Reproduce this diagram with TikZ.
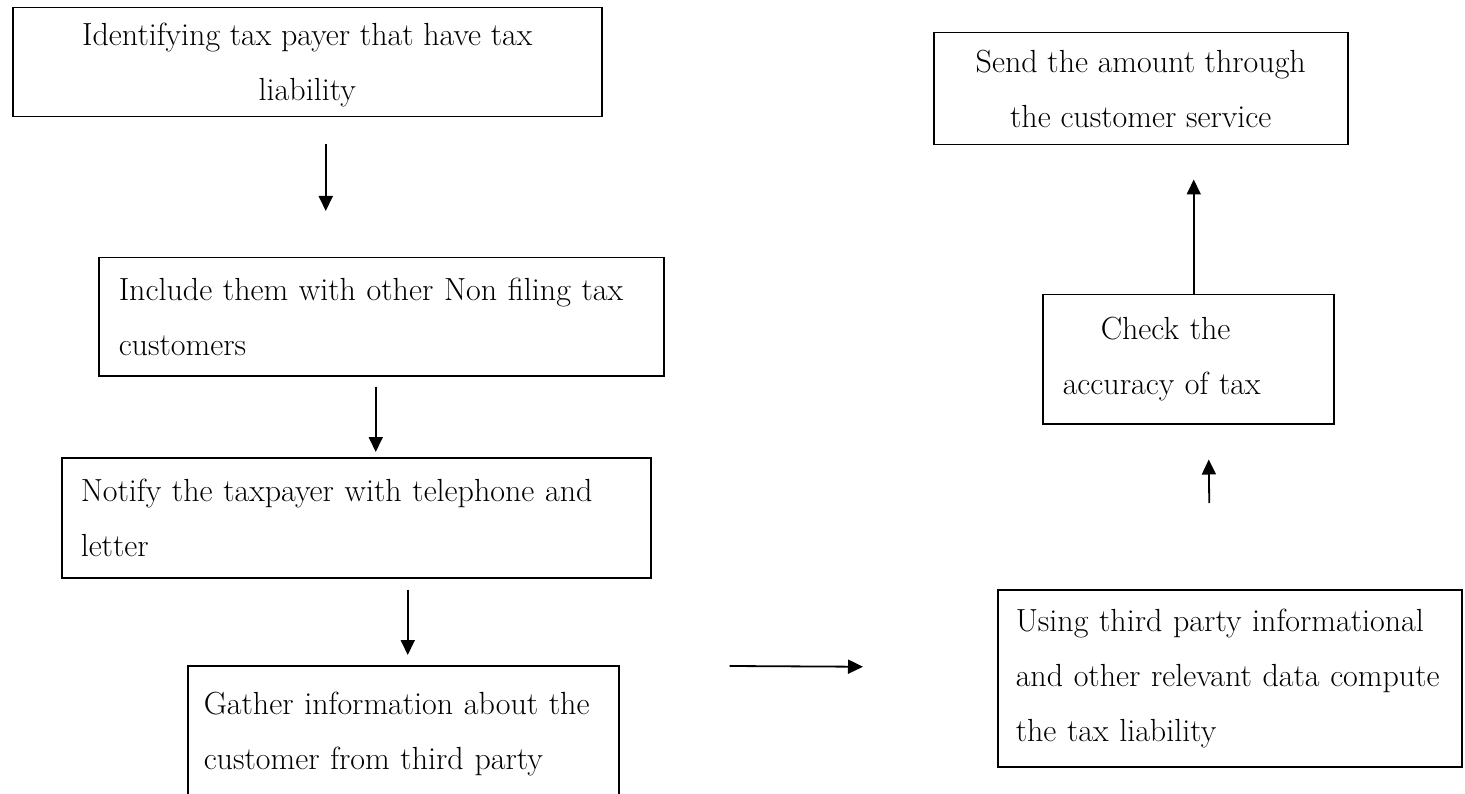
\documentclass[tikz,border=0pt]{standalone}
\usepackage{tikz}
\usetikzlibrary{arrows.meta}

\tikzset{
  box/.style={draw, rectangle, line width=1.5pt, anchor=north west, inner ysep=0pt, font=\fontsize{32}{55}\selectfont},
  arr/.style={line width=1.8pt, -{Triangle[length=15pt,width=14pt]}}
}

\begin{document}
\begin{tikzpicture}[x=1pt, y=-1pt]
        \useasboundingbox (0,0) rectangle (1465,794);
        \clip (0,0) rectangle (1465,794);
        \node (ident) [box, align=center, minimum width=589pt, minimum height=109pt, text depth=0pt] at (12,7) {Identifying tax payer that have tax\\liability};
        \node (incl) [box, align=left, inner xsep=20pt, text width=525pt, minimum height=118pt] at (98,257) {Include them with other Non filing tax\\customers};
        \node (notify) [box, align=left, inner xsep=19pt, text width=551pt, minimum height=120pt] at (61,457) {Notify the taxpayer with telephone and\\letter};
        \node (gather) [box, align=left, inner xsep=16pt, text width=399pt, minimum height=136pt] at (187,665) {Gather information about the\\customer from third party};
        \node (using) [box, align=left, inner xsep=18pt, text width=428pt, minimum height=177pt] at (997,589) {Using third party informational\\and other relevant data compute\\the tax liability};
        \node (check) [box, align=left, inner xsep=20pt, text width=251pt, minimum height=129pt] at (1042,294) {\hspace*{38pt}Check the\\accuracy of tax};
        \node (send) [box, align=center, minimum width=414pt, minimum height=112pt] at (933,32) {Send the amount through\\the customer service};

        \draw[arr] ([xshift=18.5pt,yshift=-27pt]ident.south) -- ([xshift=-55.5pt,yshift=46pt]incl.north);
        \draw[arr] ([xshift=-5.5pt,yshift=-10pt]incl.south) -- ([xshift=19.5pt,yshift=5pt]notify.north);
        \draw[arr] ([xshift=51.5pt,yshift=-11pt]notify.south) -- ([xshift=4.5pt,yshift=10pt]gather.north);
        \draw[arr] ([xshift=110pt,yshift=-1pt]gather.north east) -- ([xshift=-134pt,yshift=11.5pt]using.west);
        \draw[arr] ([xshift=-20.5pt,yshift=86pt]using.north) -- ([xshift=20.5pt,yshift=-35pt]check.south);
        \draw[arr] ([xshift=5.5pt]check.north) -- ([xshift=53pt,yshift=-34pt]send.south);
    \end{tikzpicture}
\end{document}
